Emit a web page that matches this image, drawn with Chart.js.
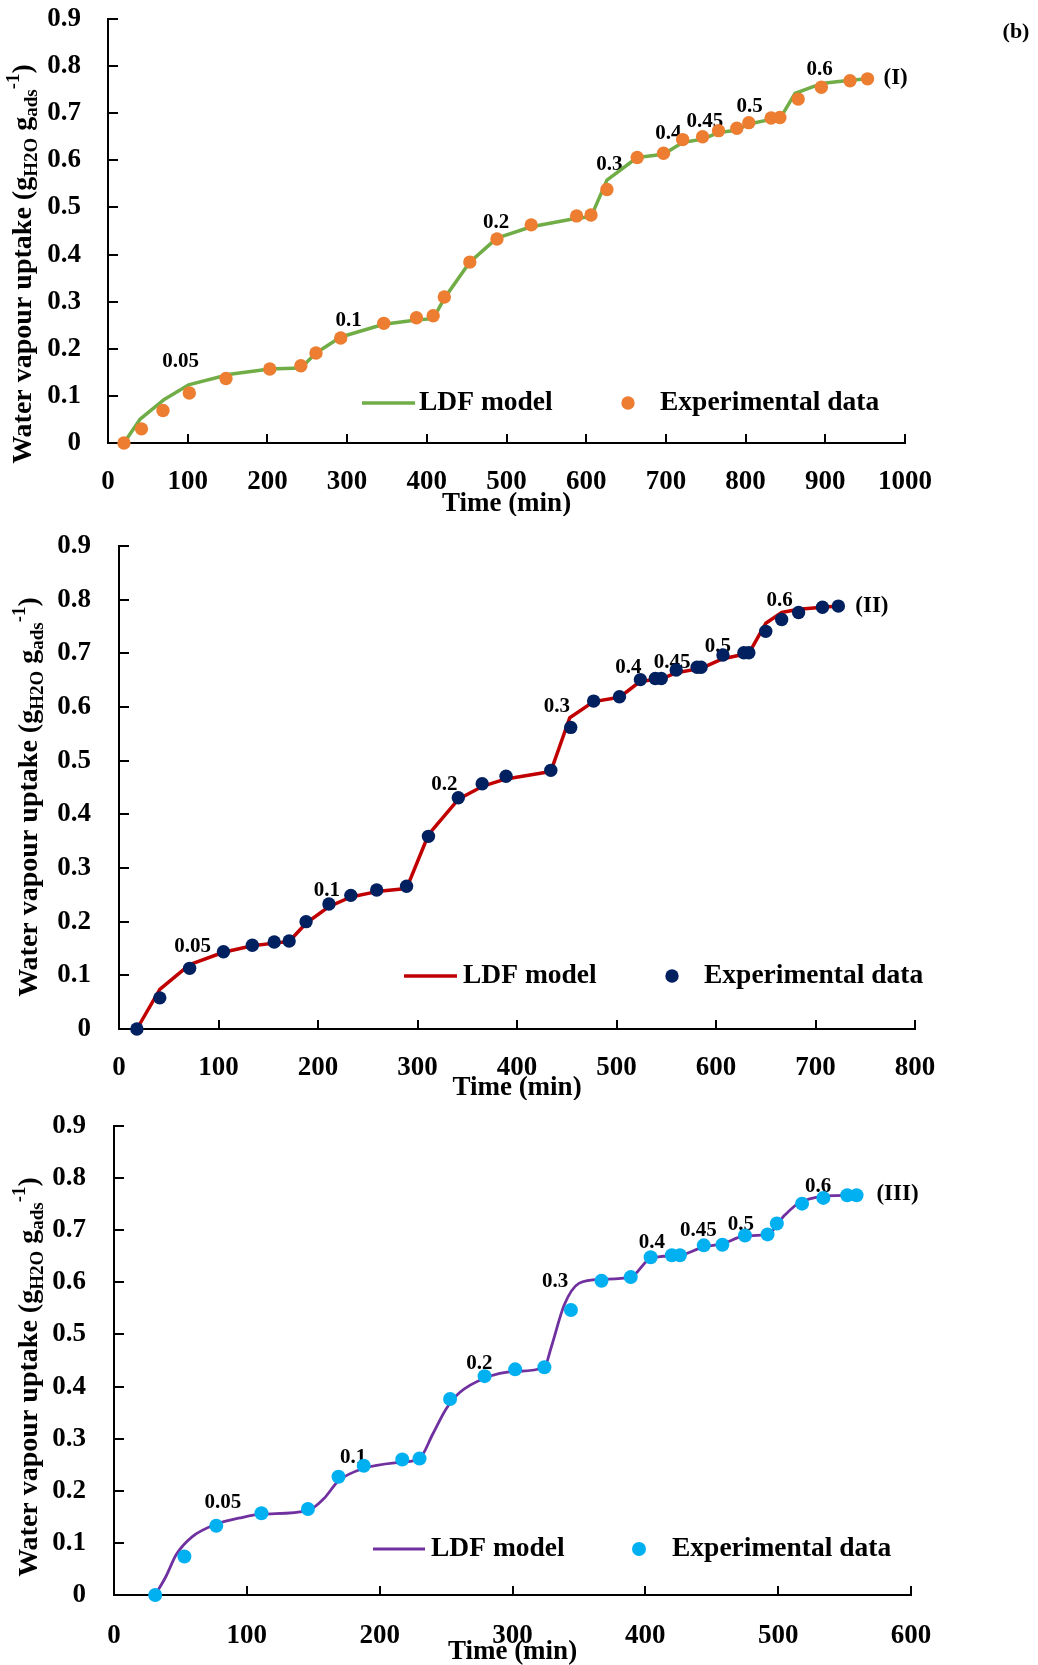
<!DOCTYPE html>
<html>
<head>
<meta charset="utf-8">
<script src="https://cdn.jsdelivr.net/npm/chart.js@4.4.1/dist/chart.umd.min.js"></script>
<style>
  html, body { margin: 0; padding: 0; background: #fff; width: 1038px; height: 1665px; overflow: hidden; position: relative; }
  canvas { position: absolute; left: 0; }
</style>
</head>
<body>
<canvas id="c1" width="1038" height="516" style="top:0px"></canvas>
<canvas id="c2" width="1038" height="584" style="top:516px"></canvas>
<canvas id="c3" width="1038" height="565" style="top:1100px"></canvas>
<script>
// ---- Relative-humidity step labels (shared by the three runs) ----
const rhLabels = ['0.05', '0.1', '0.2', '0.3', '0.4', '0.45', '0.5', '0.6'];

// ---- Run (I) ----
const expTimeI   = [20, 42, 69, 102, 148, 203, 242, 261, 292, 346, 387, 408, 422, 454, 488, 531, 588, 606, 626, 664, 697, 721, 746, 766, 789, 804, 832, 843, 866, 895, 931, 953];
const expUptakeI = [0, 0.030, 0.069, 0.106, 0.137, 0.157, 0.164, 0.191, 0.223, 0.254, 0.266, 0.270, 0.310, 0.384, 0.433, 0.463, 0.482, 0.484, 0.538, 0.606, 0.615, 0.644, 0.650, 0.663, 0.668, 0.680, 0.690, 0.691, 0.730, 0.755, 0.769, 0.773];
const ldfTimeI   = [20, 40, 71, 102, 153, 203, 242, 261, 292, 346, 387, 408, 422, 454, 488, 531, 588, 606, 626, 664, 697, 721, 746, 766, 789, 804, 832, 843, 862, 895, 931, 953];
const ldfUptakeI = [0, 0.050, 0.093, 0.124, 0.146, 0.157, 0.159, 0.191, 0.225, 0.252, 0.261, 0.264, 0.307, 0.384, 0.435, 0.459, 0.477, 0.480, 0.558, 0.606, 0.613, 0.638, 0.645, 0.659, 0.664, 0.677, 0.687, 0.688, 0.742, 0.763, 0.770, 0.773];
const rhTimeI    = [91, 302, 487, 629, 703, 749, 805, 893];
const rhUptakeI  = [0.172, 0.259, 0.467, 0.591, 0.656, 0.682, 0.714, 0.793];

// ---- Run (II) ----
const expTimeII   = [18, 41, 71, 105, 134, 156, 171, 188, 211, 233, 259, 289, 311, 341, 365, 389, 434, 454, 477, 503, 524, 539, 545, 560, 581, 585, 607, 628, 633, 650, 666, 683, 707, 723];
const expUptakeII = [0, 0.058, 0.113, 0.144, 0.156, 0.162, 0.164, 0.200, 0.233, 0.249, 0.259, 0.266, 0.359, 0.431, 0.457, 0.471, 0.482, 0.562, 0.611, 0.619, 0.651, 0.653, 0.653, 0.669, 0.674, 0.674, 0.697, 0.701, 0.701, 0.741, 0.763, 0.776, 0.786, 0.788];
const ldfTimeII   = [18, 41, 71, 105, 134, 156, 171, 188, 211, 233, 259, 289, 311, 341, 365, 389, 434, 453, 477, 503, 524, 545, 560, 585, 607, 633, 650, 666, 683, 707, 723];
const ldfUptakeII = [0, 0.074, 0.120, 0.143, 0.155, 0.160, 0.163, 0.197, 0.228, 0.246, 0.256, 0.262, 0.362, 0.428, 0.452, 0.466, 0.480, 0.580, 0.610, 0.618, 0.648, 0.652, 0.664, 0.672, 0.690, 0.700, 0.756, 0.776, 0.782, 0.786, 0.788];
const rhTimeII    = [74, 209, 327, 440, 512, 556, 602, 664];
const rhUptakeII  = [0.153, 0.257, 0.456, 0.601, 0.674, 0.682, 0.713, 0.798];

// ---- Run (III) ----
const expTimeIII   = [31, 53, 77, 111, 146, 169, 188, 217, 230, 253, 279, 302, 324, 344, 367, 389, 404, 420, 426, 444, 458, 475, 492, 499, 518, 534, 552, 559];
const expUptakeIII = [0, 0.074, 0.133, 0.157, 0.165, 0.227, 0.248, 0.260, 0.262, 0.376, 0.420, 0.433, 0.437, 0.547, 0.603, 0.610, 0.648, 0.652, 0.652, 0.671, 0.672, 0.690, 0.692, 0.713, 0.751, 0.762, 0.767, 0.767];
const ldfTimeIII   = [31, 39, 47, 59, 77, 95, 111, 146, 158, 169, 188, 217, 230, 240, 250, 260, 279, 302, 324, 329, 339, 350, 367, 389, 404, 426, 444, 458, 475, 492, 505, 515, 534, 559];
const ldfUptakeIII = [0, 0.035, 0.078, 0.112, 0.136, 0.148, 0.155, 0.162, 0.185, 0.219, 0.243, 0.255, 0.262, 0.309, 0.357, 0.388, 0.416, 0.429, 0.437, 0.474, 0.557, 0.598, 0.606, 0.610, 0.646, 0.652, 0.668, 0.674, 0.689, 0.692, 0.729, 0.751, 0.765, 0.767];
const rhTimeIII    = [82, 180, 275, 332, 405, 440, 472, 530];
const rhUptakeIII  = [0.178, 0.264, 0.445, 0.602, 0.677, 0.700, 0.710, 0.784];

// ---- Shared text ----
const xTitle = 'Time (min)';
const yTitleParts = [
  { text: 'Water vapour uptake (g', kind: 'normal' },
  { text: 'H2O', kind: 'sub' },
  { text: ' g', kind: 'normal' },
  { text: 'ads', kind: 'sub' },
  { text: '-1', kind: 'sup' },
  { text: ')', kind: 'normal' }
];
const legendLine = 'LDF model';
const legendPoints = 'Experimental data';

const FONT = '"Liberation Serif", "Times New Roman", serif';

function toXY(ts, us) { return ts.map((t, i) => ({ x: t, y: us[i] })); }

function drawYTitle(ctx, bx, cy) {
  const big = 28, small = 19;
  ctx.save();
  ctx.translate(bx, cy);
  ctx.rotate(-Math.PI / 2);
  ctx.fillStyle = '#000';
  ctx.textBaseline = 'alphabetic';
  ctx.textAlign = 'left';
  let total = 0;
  const widths = yTitleParts.map(p => {
    ctx.font = 'bold ' + (p.kind === 'normal' ? big : small) + 'px ' + FONT;
    const w = ctx.measureText(p.text).width;
    total += w;
    return w;
  });
  let x = -total / 2;
  yTitleParts.forEach((p, i) => {
    ctx.font = 'bold ' + (p.kind === 'normal' ? big : small) + 'px ' + FONT;
    const dy = p.kind === 'sub' ? 6 : (p.kind === 'sup' ? -12 : 0);
    ctx.fillText(p.text, x, dy);
    x += widths[i];
  });
  ctx.restore();
}

function makePanel(id, p) {
  const ctx = document.getElementById(id).getContext('2d');
  const H = p.canvasH;
  const scaleH = H - p.padBottom - p.plotBottom;

  const decor = {
    id: 'decor' + id,
    beforeDatasetsDraw(chart) {
      const c = chart.ctx, a = chart.chartArea, xs = chart.scales.x, ys = chart.scales.y;
      c.save();
      // inward tick marks
      c.strokeStyle = '#000';
      c.lineWidth = 2;
      c.beginPath();
      xs.ticks.forEach(t => {
        const px = Math.round(xs.getPixelForValue(t.value));
        c.moveTo(px, a.bottom); c.lineTo(px, a.bottom - 9);
      });
      ys.ticks.forEach(t => {
        const py = Math.round(ys.getPixelForValue(t.value));
        c.moveTo(a.left, py); c.lineTo(a.left + 10, py);
      });
      c.stroke();
      // humidity step labels
      c.fillStyle = '#000';
      c.font = 'bold 21px ' + FONT;
      c.textAlign = 'center';
      c.textBaseline = 'middle';
      rhLabels.forEach((lab, i) => {
        c.fillText(lab, xs.getPixelForValue(p.rhT[i]), ys.getPixelForValue(p.rhU[i]));
      });
      // run tag
      c.font = 'bold 23px ' + FONT;
      c.textAlign = 'left';
      c.fillText(p.tag, xs.getPixelForValue(p.tagT), ys.getPixelForValue(p.tagU));
      c.restore();
    },
    afterDraw(chart) {
      const c = chart.ctx;
      drawYTitle(c, p.yTitleX, p.yTitleY);
      // legend
      c.save();
      const L = p.legend;
      c.strokeStyle = p.lineColor;
      c.lineWidth = p.lineWidth;
      c.beginPath(); c.moveTo(L.x1, L.y); c.lineTo(L.x2, L.y); c.stroke();
      c.fillStyle = p.pointColor;
      c.beginPath(); c.arc(L.mx, L.y, p.pointR, 0, Math.PI * 2); c.fill();
      c.fillStyle = '#000';
      c.font = 'bold 27.5px ' + FONT;
      c.textAlign = 'left';
      c.textBaseline = 'middle';
      c.fillText(legendLine, L.t1, L.y);
      c.fillText(legendPoints, L.t2, L.y);
      if (p.corner) {
        c.font = 'bold 22px ' + FONT;
        c.textAlign = 'center';
        c.fillText(p.corner.text, p.corner.x, p.corner.y);
      }
      c.restore();
    }
  };

  return new Chart(ctx, {
    type: 'scatter',
    data: {
      datasets: [
        {
          label: legendPoints,
          data: toXY(p.expT, p.expU),
          backgroundColor: p.pointColor,
          borderWidth: 0,
          pointRadius: p.pointR,
          pointHoverRadius: p.pointR,
          clip: false,
          order: 1
        },
        {
          type: 'line',
          label: legendLine,
          data: toXY(p.ldfT, p.ldfU),
          borderColor: p.lineColor,
          borderWidth: p.lineWidth,
          pointRadius: 0,
          fill: false,
          tension: 0,
          cubicInterpolationMode: p.smooth ? 'monotone' : 'default',
          borderJoinStyle: 'round',
          clip: false,
          order: 2
        }
      ]
    },
    options: {
      responsive: false,
      animation: false,
      devicePixelRatio: 1,
      events: [],
      layout: { autoPadding: false, padding: { left: 0, top: p.plotTop, right: 1038 - p.plotRight, bottom: p.padBottom } },
      plugins: { legend: { display: false }, tooltip: { enabled: false } },
      scales: {
        x: {
          type: 'linear',
          min: 0, max: p.xMax,
          ticks: { stepSize: 100, autoSkip: false, maxRotation: 0, color: '#000', padding: p.xTickPad,
                   font: { family: FONT, size: 27, weight: 'bold' },
                   callback: v => String(v) },
          grid: { display: false, drawTicks: false, tickLength: 0 },
          border: { display: true, color: '#000', width: 2 },
          title: { display: true, text: xTitle, color: '#000', padding: { top: 0, bottom: -2 },
                   font: { family: FONT, size: 27, weight: 'bold', lineHeight: 1 } },
          afterFit(s) { s.height = scaleH; s.paddingLeft = 0; s.paddingRight = 0; }
        },
        y: {
          type: 'linear',
          min: 0, max: 0.9,
          ticks: { stepSize: 0.1, autoSkip: false, color: '#000', padding: p.yTickPad,
                   font: { family: FONT, size: 27, weight: 'bold' },
                   callback: v => String(Math.round(v * 10) / 10) },
          grid: { display: false, drawTicks: false, tickLength: 0 },
          border: { display: true, color: '#000', width: 2 },
          afterFit(s) { s.width = p.plotLeft; s.paddingTop = 0; s.paddingBottom = 0; }
        }
      }
    },
    plugins: [decor]
  });
}

makePanel('c1', {
  expT: expTimeI, expU: expUptakeI, ldfT: ldfTimeI, ldfU: ldfUptakeI,
  rhT: rhTimeI, rhU: rhUptakeI, tag: '(I)', tagT: 973, tagU: 0.775, xMax: 1000,
  lineColor: '#70AD47', pointColor: '#ED7D31', lineWidth: 3.5, pointR: 6.7, smooth: false,
  canvasH: 516, plotTop: 19, plotBottom: 443, plotLeft: 108, plotRight: 905, padBottom: 0,
  xTickPad: 23, yTickPad: 27, yTitleX: 31, yTitleY: 264,
  legend: { x1: 362, x2: 415, y: 403, t1: 419, mx: 628, t2: 660 },
  corner: { text: '(b)', x: 1016, y: 32 }
});

makePanel('c2', {
  expT: expTimeII, expU: expUptakeII, ldfT: ldfTimeII, ldfU: ldfUptakeII,
  rhT: rhTimeII, rhU: rhUptakeII, tag: '(II)', tagT: 740, tagU: 0.788, xMax: 800,
  lineColor: '#C00000', pointColor: '#002060', lineWidth: 3.5, pointR: 6.7, smooth: false,
  canvasH: 584, plotTop: 30, plotBottom: 513, plotLeft: 119, plotRight: 915, padBottom: 0,
  xTickPad: 23, yTickPad: 28, yTitleX: 37, yTitleY: 281,
  legend: { x1: 404, x2: 457, y: 460, t1: 463, mx: 672, t2: 704 }
});

makePanel('c3', {
  expT: expTimeIII, expU: expUptakeIII, ldfT: ldfTimeIII, ldfU: ldfUptakeIII,
  rhT: rhTimeIII, rhU: rhUptakeIII, tag: '(III)', tagT: 574, tagU: 0.769, xMax: 600,
  lineColor: '#7030A0', pointColor: '#00B0F0', lineWidth: 2.8, pointR: 7, smooth: true,
  canvasH: 565, plotTop: 26, plotBottom: 495, plotLeft: 114, plotRight: 911, padBottom: 1,
  xTickPad: 25, yTickPad: 28, yTitleX: 37, yTitleY: 277,
  legend: { x1: 373, x2: 425, y: 449, t1: 431, mx: 639, t2: 672 }
});
</script>
</body>
</html>
